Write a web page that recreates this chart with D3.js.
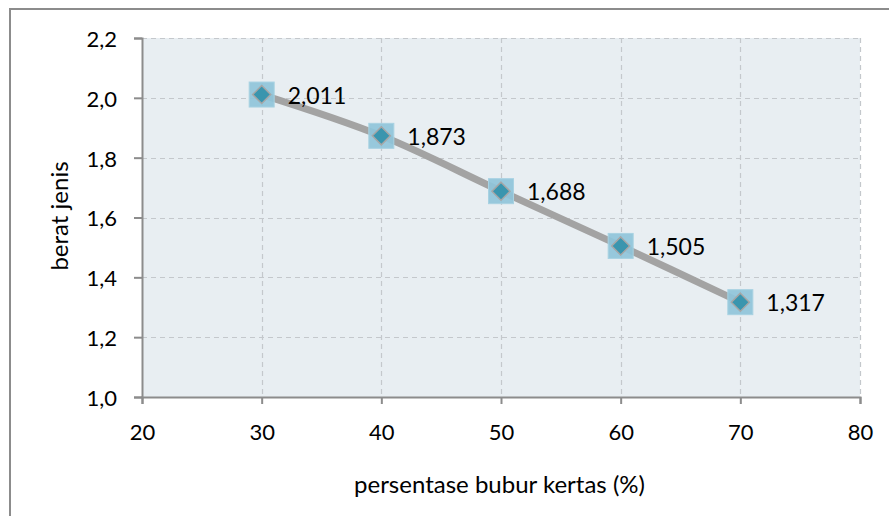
<!DOCTYPE html>
<html><head><meta charset="utf-8">
<script src="https://cdn.jsdelivr.net/npm/d3@7"></script>
<style>body{margin:0;background:#fff}svg{display:block}text{font-family:Lato,"Open Sans",sans-serif;fill:#000}</style>
</head><body><svg id="c" width="889" height="516"></svg>
<script>
const xValues = [30, 40, 50, 60, 70];
const yValues = [2.011, 1.873, 1.688, 1.505, 1.317];
const labels = ["2,011", "1,873", "1,688", "1,505", "1,317"];
const xTicks = [20, 30, 40, 50, 60, 70, 80];
const yTicks = [1.0, 1.2, 1.4, 1.6, 1.8, 2.0, 2.2];
const xTitle = "persentase bubur kertas (%)";
const yTitle = "berat jenis";

const svg = d3.select("#c");
const L = 142, R = 860, T = 38, B = 397;
const x = d3.scaleLinear().domain([20, 80]).range([L, R]);
const y = d3.scaleLinear().domain([1.0, 2.2]).range([B, T]);

svg.append("rect").attr("x", 10).attr("y", 9).attr("width", 900).attr("height", 600)
  .attr("fill", "#fff").attr("stroke", "#8c8c8c").attr("stroke-width", 2);
svg.append("rect").attr("x", L).attr("y", T).attr("width", R - L).attr("height", B - T).attr("fill", "#e8eef2");

// gridlines
svg.append("g").selectAll("line").data(yTicks.slice(1)).join("line")
  .attr("x1", L).attr("x2", R).attr("y1", d => Math.round(y(d)) + 0.5).attr("y2", d => Math.round(y(d)) + 0.5)
  .attr("stroke", "#c4c8cc").attr("stroke-width", 1.2).attr("stroke-dasharray", "5,4");
svg.append("g").selectAll("line").data(xTicks.slice(1)).join("line")
  .attr("y1", T).attr("y2", B).attr("x1", d => Math.round(x(d)) + 0.5).attr("x2", d => Math.round(x(d)) + 0.5)
  .attr("stroke", "#c4c8cc").attr("stroke-width", 1.2).attr("stroke-dasharray", "5,4");

// axes
const yAxis = d3.axisLeft(y).tickValues(yTicks).tickSize(8).tickPadding(17)
  .tickFormat(d => d3.format(".1f")(d).replace(".", ","));
const gy = svg.append("g").attr("transform", `translate(${L},0)`).call(yAxis);
const xAxis = d3.axisBottom(x).tickValues(xTicks).tickSize(7);
const gx = svg.append("g").attr("transform", `translate(0,${B})`).call(xAxis);
[gy, gx].forEach(g => {
  g.attr("font-size", null).attr("font-family", null);
  g.select(".domain").attr("stroke", "#8c8c8c").attr("stroke-width", 2);
  g.selectAll(".tick line").attr("stroke", "#8c8c8c").attr("stroke-width", 2);
  g.selectAll("text").style("font-size", "22px").attr("fill", "#000");
});
gy.selectAll("text").attr("dy", "0.38em");
gx.selectAll("text").attr("y", 43).attr("dy", null);

// line
const pts = xValues.map((v, i) => [x(v), y(yValues[i])]);
svg.append("path").attr("d", d3.line().curve(d3.curveCatmullRom.alpha(0.5))(pts))
  .attr("fill", "none").attr("stroke", "#a3a3a3").attr("stroke-width", 7).attr("stroke-linecap", "round");

// markers
const m = svg.append("g").selectAll("g").data(pts).join("g").attr("transform", d => `translate(${d[0]},${d[1]})`);
m.append("rect").attr("x", -12.5).attr("y", -12.5).attr("width", 25).attr("height", 25)
  .attr("fill", "#8fc4da").attr("fill-opacity", 0.92).attr("stroke", "#a8d2e2").attr("stroke-width", 1);
m.append("path").attr("d", "M0,-9L9,0L0,9L-9,0Z").attr("fill", "#3a95ae").attr("stroke", "#a6a6a6").attr("stroke-width", 1.5);

// data labels
svg.append("g").selectAll("text").data(pts).join("text")
  .attr("x", d => d[0] + 26).attr("y", d => d[1] + 9)
  .style("font-size", "23px").text((d, i) => labels[i]);

// titles
svg.append("text").attr("x", 499.5).attr("y", 493).attr("text-anchor", "middle").style("font-size", "24px").text(xTitle);
svg.append("text").attr("transform", `translate(68,216) rotate(-90)`).attr("text-anchor", "middle").style("font-size", "24px").text(yTitle);
</script></body></html>
